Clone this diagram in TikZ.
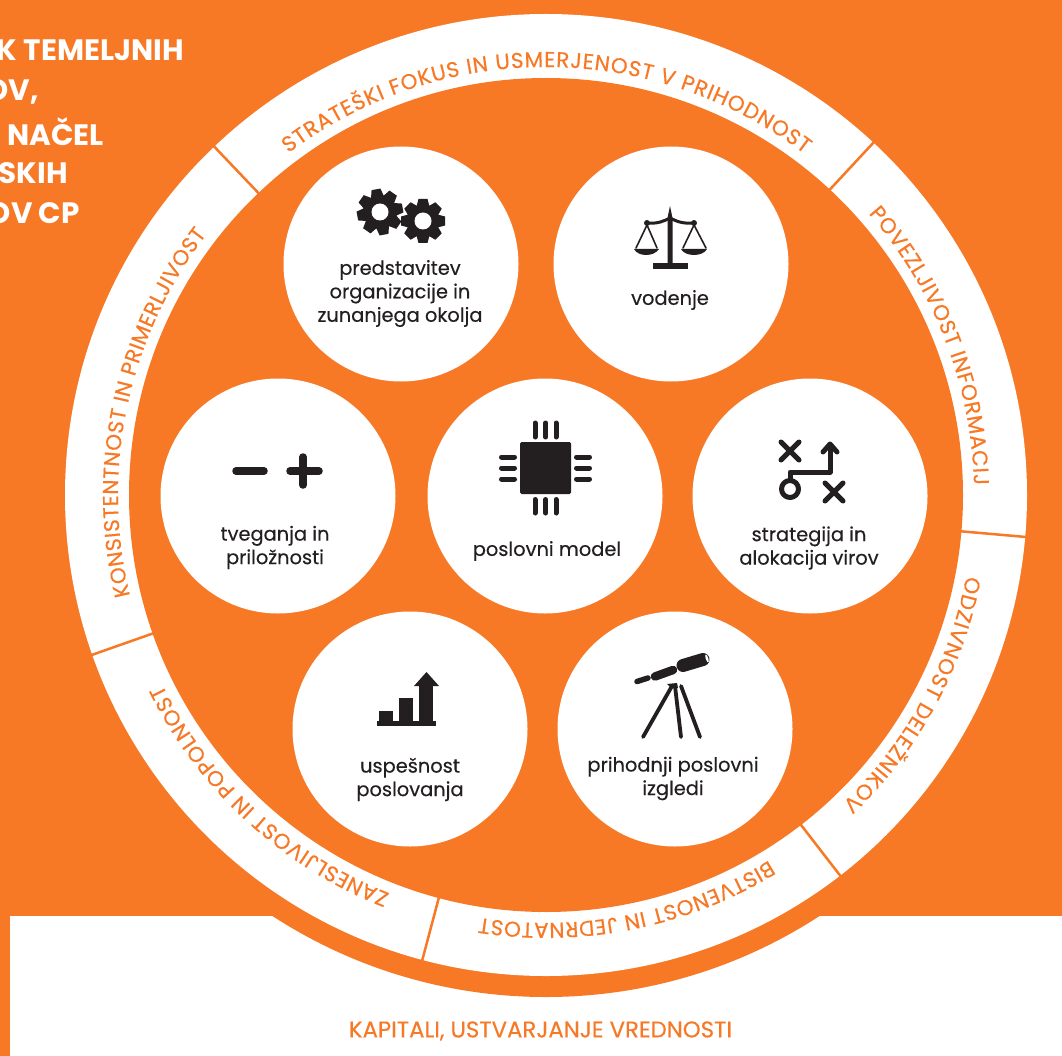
\documentclass[tikz,border=0pt]{standalone}
\usepackage{fontspec}
\usetikzlibrary{decorations.text}
\setmainfont{Poppins}
\newfontfamily\medfont[FakeBold=0.3]{Poppins}
\definecolor{ringorange}{HTML}{F77825}
\definecolor{ink}{HTML}{231F20}
\newcommand{\ringtext}[3]{%
  \path[decorate,decoration={text along path,text align={fit to path},
    text={|\medfont\fontsize{21.5}{24}\selectfont\color{ringorange}|#3}}]
    (#1:428pt) arc[start angle=#1,end angle=#2,radius=428pt];}
\tikzset{
  x=1pt,y=-1pt,
  bubble/.style={circle,fill=white,minimum size=235pt,inner sep=0pt},
  label/.style={text=ink,font=\medfont\fontsize{19.4}{23.5}\selectfont,align=center,inner sep=0pt},
  headline/.style={text=white,font=\fontsize{29.5}{32}\selectfont\bfseries,anchor=east,inner sep=0pt},
  divider/.style={draw=ringorange,line width=2.5pt},
  stroke/.style={draw=ink,line width=#1,line cap=round,line join=round,fill=none},
  stroke/.default=5pt
}
\begin{document}
\begin{tikzpicture}
\useasboundingbox (0,0) rectangle (1062,1056);
\clip (0,0) rectangle (1062,1056);
% background
\fill[white] (0,0) rectangle (1062,1056);
\fill[ringorange] (0,0) rectangle (1062,916);
\fill[ringorange] (0,916) rectangle (10,1056);
\coordinate (c) at (546,495);
\fill[ringorange] (c) circle[radius=502pt];
\fill[white] (c) circle[radius=481pt];
\fill[ringorange] (c) circle[radius=417pt];
% headline
\node[headline] (h1) at (184,50) {K TEMELJNIH};
\node[headline] (h2) at (39,92) {OV,};
\node[headline] (h3) at (104,132) {NAČEL};
\node[headline] (h4) at (68,173) {SKIH};
\node[headline] (h5) at (80,213) {OV CP};
% ring
\begin{scope}[shift={(546,495)},y=1pt]
  \foreach \a in {133.6,47.1,-5,-52.3,-104.9,199.4}{
    \coordinate (o) at (\a:482pt);
    \coordinate (i) at (\a:416pt);
    \draw[divider] (i) -- (o);
  }
  \ringtext{127}{52.9}{STRATEŠKI FOKUS IN USMERJENOST V PRIHODNOST}
  \ringtext{41.1}{1.3}{POVEZLJIVOST INFORMACIJ}
  \ringtext{-10.9}{-46.2}{ODZIVNOST DELEŽNIKOV}
  \ringtext{-58.6}{-98.9}{BISTVENOST IN JEDRNATOST}
  \ringtext{-111.4}{-153.7}{ZANESLJIVOST IN POPOLNOST}
  \ringtext{193.6}{142.5}{KONSISTENTNOST IN PRIMERLJIVOST}
\end{scope}
% bubbles
\node[bubble] (b1) at (401,264) {};
\node[bubble] (b2) at (671,264) {};
\node[bubble] (b3) at (278,496) {};
\node[bubble] (b4) at (545,496) {};
\node[bubble] (b5) at (810,496) {};
\node[bubble] (b6) at (410,729) {};
\node[bubble] (b7) at (675,729) {};
% labels
\node[label] (l1) at (400,293.5) {predstavitev\\organizacije in\\zunanjega okolja};
\node[label] (l2) at (670,300) {vodenje};
\node[label] (l3) at (275,547.5) {tveganja in\\priložnosti};
\node[label] (l4) at (547,551) {poslovni model};
\node[label] (l5) at (809,548) {strategija in\\alokacija virov};
\node[label] (l6) at (410,779.5) {uspešnost\\poslovanja};
\node[label] (l7) at (673,778.5) {prihodnji poslovni\\izgledi};
\node[text=ringorange,font=\medfont\fontsize{22.8}{24}\selectfont,inner sep=0pt] (cap) at (540.5,1031) {KAPITALI, USTVARJANJE VREDNOSTI};
% gears
\foreach \cx/\cy/\rb/\rt/\rh/\off in {380/212/17/23/8.5/10,423/221/16.5/22/8.5/0}{
  \begin{scope}[shift={(\cx,\cy)},y=1pt]
    \fill[ink] (0,0) circle[radius=\rb pt];
    \foreach \t in {0,45,...,315}{
      \fill[ink,rotate=\t+\off] (\rb-2,-6.5) -- (\rt,-4.5) -- (\rt,4.5) -- (\rb-2,6.5) -- cycle;
    }
    \fill[white] (0,0) circle[radius=\rh pt];
  \end{scope}
}
% scales
\fill[ink] (667.5,268) -- (667.5,218) -- (670,206) -- (672.5,218) -- (672.5,268) -- cycle;
\fill[ink] (653,263) rectangle (688,269);
\draw[stroke=3pt] (647,223) .. controls (658,224) and (664,221) .. (670,218) .. controls (676,221) and (682,224) .. (694,223);
\fill[ink] (647,223) circle[radius=3pt];
\fill[ink] (694,223) circle[radius=3pt];
\draw[stroke=1.6pt] (636,248) -- (647,225) -- (657,248);
\draw[stroke=1.6pt] (683,248) -- (694,225) -- (706,248);
\fill[ink] (634,249) .. controls (638,257) and (654,257) .. (659,249) -- cycle;
\fill[ink] (681,249) .. controls (685,257) and (703,257) .. (707,249) -- cycle;
% chip
\fill[ink,rounded corners=1.5pt] (520,442) rectangle (571,494);
\foreach \p in {535,545.7,556}{
  \draw[stroke=5pt] (\p,423) -- (\p,437);
  \draw[stroke=5pt] (\p,499.5) -- (\p,513);
}
\foreach \p in {457,468,479}{
  \draw[stroke=5pt] (501.5,\p) -- (514.5,\p);
  \draw[stroke=5pt] (576.5,\p) -- (589.5,\p);
}
% strategy
\draw[stroke=5pt] (781,442) -- (799,460) (799,442) -- (781,460);
\draw[stroke=5pt] (825,483) -- (843,501) (843,483) -- (825,501);
\draw[stroke=5pt] (790,489) circle[radius=8.5pt];
\draw[stroke=5pt] (790,480) -- (790,472) -- (830,472) -- (830,445);
\draw[stroke=5pt] (823,452) -- (830,444) -- (837,452);
% minus plus
\draw[draw=ink,line width=7.5pt,line cap=round] (236,471) -- (264,471);
\draw[draw=ink,line width=7.5pt,line cap=round] (290,471) -- (319,471) (303,457) -- (303,485);
% chart
\fill[ink] (377,721) rectangle (436,726);
\fill[ink] (379,711) rectangle (393,722);
\fill[ink] (399,698) rectangle (413,722);
\fill[ink] (419,686) rectangle (433,722);
\fill[ink] (414,686) -- (426.5,672) -- (439,686) -- cycle;
% telescope
\draw[draw=ink,line width=5.5pt,line cap=round] (637,681.5) -- (648,678);
\draw[draw=ink,line width=8.5pt,line cap=round] (655,676.5) -- (673,670);
\draw[draw=ink,line width=13pt,line cap=round] (683,665.5) -- (703,659.5);
\fill[white,rotate around={18:(707,658.5)}] (707,658.5) ellipse[x radius=1.3pt,y radius=4.2pt];
\draw[stroke=3.8pt] (672,686) -- (643,737);
\draw[stroke=3.8pt] (675,686) -- (681,737);
\draw[stroke=3.8pt] (681,686) -- (700,737);
\fill[ink] (667,684) -- (677,683) -- (678,688) -- (671,688) -- cycle;
\end{tikzpicture}
\end{document}
